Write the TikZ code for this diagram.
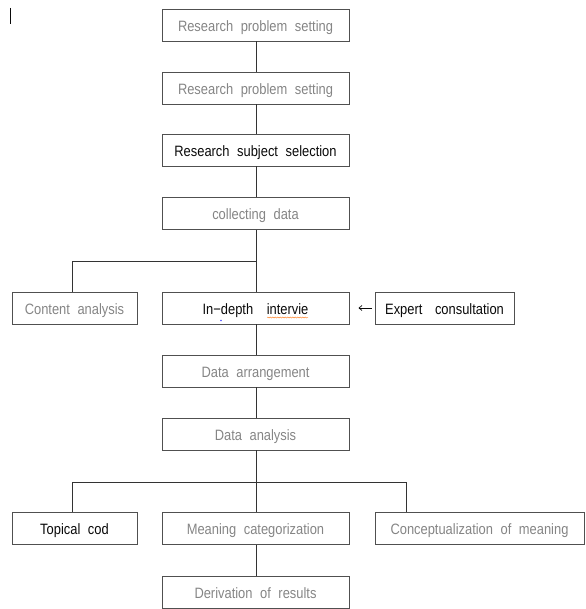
\documentclass[tikz,border=0pt]{standalone}
\usepackage{fontspec}
\setmainfont{Liberation Sans}[FakeStretch=0.86]
\usetikzlibrary{decorations.pathmorphing,arrows.meta}
\definecolor{txtgray}{HTML}{858585}
\definecolor{txtdark}{HTML}{0A0A0A}
\definecolor{border}{HTML}{505050}
\definecolor{conn}{HTML}{333333}
\tikzset{
  boxbase/.style={draw=border, line width=0.9pt, rectangle, minimum height=32pt, inner sep=0pt, text height=12.5pt, text depth=0pt, font=\fontsize{15}{17}\selectfont},
  mainbox/.style={boxbase, minimum width=187pt},
  sidebox/.style={boxbase, minimum width=125pt},
  graytext/.style={text=txtgray},
  darktext/.style={text=txtdark},
  link/.style={draw=conn, line width=0.7pt},
}
\begin{document}
\begin{tikzpicture}[x=1pt,y=-1pt]
\useasboundingbox (0,0) rectangle (585,609);
% small mark top left
\coordinate (m1) at (10.5,8);
\coordinate (m2) at (10.5,24);
\draw[line width=1.5pt, txtdark] (m1) -- (m2);

\node[mainbox, graytext] (b1) at (255.5,25) {Research\hspace{4pt} problem\hspace{4pt} setting};
\node[mainbox, graytext] (b2) at (255.5,88) {Research\hspace{4pt} problem\hspace{4pt} setting};
\node[mainbox, darktext] (b3) at (255.5,150) {Research\hspace{4pt} subject\hspace{4pt} selection};
\node[mainbox, graytext] (b4) at (255.5,213.5) {collecting\hspace{4pt} data};
\node[sidebox, graytext] (content) at (74.5,308) {Content\hspace{4pt} analysis};
\node[mainbox, darktext] (indepth) at (255.5,308) {In−depth\hspace{10pt} intervie};
\node[boxbase, minimum width=139pt, darktext] (expert) at (444.5,308) {Expert\hspace{9pt} consultation};
\node[mainbox, graytext] (arr) at (255.5,371) {Data\hspace{4pt} arrangement};
\node[mainbox, graytext] (ana) at (255.5,434) {Data\hspace{4pt} analysis};
\node[sidebox, darktext] (topical) at (74.5,528.5) {Topical\hspace{4pt} cod};
\node[mainbox, graytext] (mean) at (255.5,528.5) {Meaning\hspace{4pt} categorization};
\node[boxbase, minimum width=209pt, graytext] (concept) at (479.5,528) {Conceptualization\hspace{4pt} of\hspace{4pt} meaning};
\node[mainbox, graytext] (deriv) at (255.5,592) {Derivation\hspace{4pt} of\hspace{4pt} results};

% spell-check squiggle and dot
\coordinate (sq1) at (267,317.5);
\coordinate (sq2) at (308,317.5);
\draw[orange!85!red, line width=0.4pt, decorate, decoration={snake, amplitude=0.5pt, segment length=2.5pt}] (sq1) -- (sq2);
\coordinate (dot) at (221,320.5);
\fill[blue!70] (dot) circle (0.8pt);

% connectors
\coordinate (j1) at (256,261);
\coordinate (j2) at (256,482);
\draw[link] (b1.south -| j1) -- (b2.north -| j1);
\draw[link] (b2.south -| j1) -- (b3.north -| j1);
\draw[link] (b3.south -| j1) -- (b4.north -| j1);
\draw[link] (b4.south -| j1) -- (indepth.north -| j1);
\draw[link] (j1) -| ([xshift=-2.5pt]content.north);
\draw[link] (indepth.south -| j1) -- (arr.north -| j1);
\draw[link] (arr.south -| j1) -- (ana.north -| j1);
\draw[link] (ana.south -| j2) -- (mean.north -| j2);
\draw[link] (j2) -| ([xshift=-2.5pt]topical.north);
\draw[link] (j2) -| ([xshift=-73.5pt]concept.north);
\draw[link] (mean.south -| j2) -- (deriv.north -| j2);
\draw[draw=txtdark, line width=0.7pt, -{Straight Barb[length=3pt,width=5pt]}, shorten <=3pt, shorten >=9pt] (expert.west) -- (indepth.east);
\end{tikzpicture}
\end{document}
